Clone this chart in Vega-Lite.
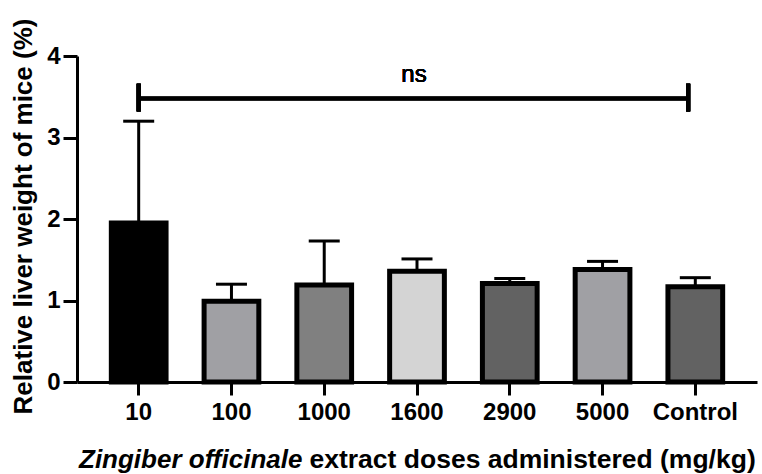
{
  "$schema": "https://vega.github.io/schema/vega-lite/v6.json",
  "autosize": {"type": "none"},
  "padding": {"left": 77, "top": 56, "right": 5, "bottom": 92},
  "width": 680,
  "height": 326,
  "config": {
    "font": "Liberation Sans",
    "view": {"stroke": null},
    "axis": {"grid": false, "domainColor": "black", "tickColor": "black", "labelColor": "black", "titleColor": "black"}
  },
  "title": {
    "text": "Zingiber officinale",
    "orient": "bottom",
    "anchor": "start",
    "frame": "group",
    "font": "Liberation Sans",
    "fontSize": 26,
    "fontStyle": "italic",
    "fontWeight": "bold",
    "color": "black",
    "baseline": "alphabetic",
    "offset": 0,
    "dx": 2,
    "dy": -5
  },
  "data": {
    "values": [
      {"dose": "10", "mean": 1.95, "upper": 3.2},
      {"dose": "100", "mean": 0.99, "upper": 1.2},
      {"dose": "1000", "mean": 1.19, "upper": 1.73},
      {"dose": "1600", "mean": 1.36, "upper": 1.51},
      {"dose": "2900", "mean": 1.21, "upper": 1.27},
      {"dose": "5000", "mean": 1.38, "upper": 1.48},
      {"dose": "Control", "mean": 1.17, "upper": 1.28}
    ]
  },
  "encoding": {
    "x": {
      "field": "dose",
      "type": "nominal",
      "sort": null,
      "scale": {"paddingInner": 0.41, "paddingOuter": 0.37},
      "axis": {
        "labelAngle": 0,
        "labelFontSize": 24,
        "labelFontWeight": "bold",
        "labelPadding": 5,
        "tickSize": 13,
        "tickWidth": 3,
        "domainWidth": 3,
        "title": "extract doses administered (mg/kg)",
        "titleFontSize": 26.5,
        "titleFontWeight": "bold",
        "titleAlign": "left",
        "titleAnchor": "start",
        "titleBaseline": "alphabetic",
        "titleX": 232,
        "titleY": 85
      }
    }
  },
  "layer": [
    {
      "mark": {"type": "rule", "strokeWidth": 3, "color": "black"},
      "encoding": {
        "y": {"field": "mean", "type": "quantitative"},
        "y2": {"field": "upper"}
      }
    },
    {
      "mark": {"type": "tick", "size": 31, "thickness": 3, "color": "black", "opacity": 1},
      "encoding": {
        "y": {"field": "upper", "type": "quantitative"}
      }
    },
    {
      "mark": {"type": "bar", "stroke": "black", "strokeWidth": 5},
      "encoding": {
        "y": {
          "field": "mean",
          "type": "quantitative",
          "scale": {"domain": [0, 4]},
          "axis": {
            "values": [0, 1, 2, 3, 4],
            "format": "d",
            "labelFontSize": 24,
            "labelFontWeight": "bold",
            "labelPadding": 3,
            "tickSize": 14,
            "tickWidth": 3,
            "domainWidth": 3,
            "title": "Relative liver weight of mice (%)",
            "titleFontSize": 26,
            "titleFontWeight": "bold",
            "titleBaseline": "alphabetic",
            "titleX": -46,
            "titleY": 160
          }
        },
        "color": {
          "field": "dose",
          "type": "nominal",
          "sort": null,
          "legend": null,
          "scale": {
            "domain": ["10", "100", "1000", "1600", "2900", "5000", "Control"],
            "range": ["#000000", "#a0a0a4", "#808080", "#d4d4d4", "#626262", "#a0a0a4", "#626262"]
          }
        }
      }
    },
    {
      "mark": {"type": "rule", "strokeWidth": 3.5, "color": "black"},
      "encoding": {
        "x": {"datum": "10"},
        "x2": {"datum": "Control", "bandPosition": 0.37},
        "y": {"datum": 3.48}
      }
    },
    {
      "mark": {"type": "rule", "strokeWidth": 4, "color": "black"},
      "encoding": {
        "x": {"datum": "10"},
        "y": {"datum": 3.32},
        "y2": {"datum": 3.66}
      }
    },
    {
      "mark": {"type": "rule", "strokeWidth": 4, "color": "black"},
      "encoding": {
        "x": {"datum": "Control", "bandPosition": 0.37},
        "y": {"datum": 3.32},
        "y2": {"datum": 3.66}
      }
    },
    {
      "mark": {"type": "text", "text": "ns", "fontSize": 24, "font": "Liberation Sans", "color": "black", "baseline": "alphabetic", "xOffset": -3},
      "encoding": {
        "x": {"datum": "1600"},
        "y": {"datum": 3.68}
      }
    }
  ]
}
